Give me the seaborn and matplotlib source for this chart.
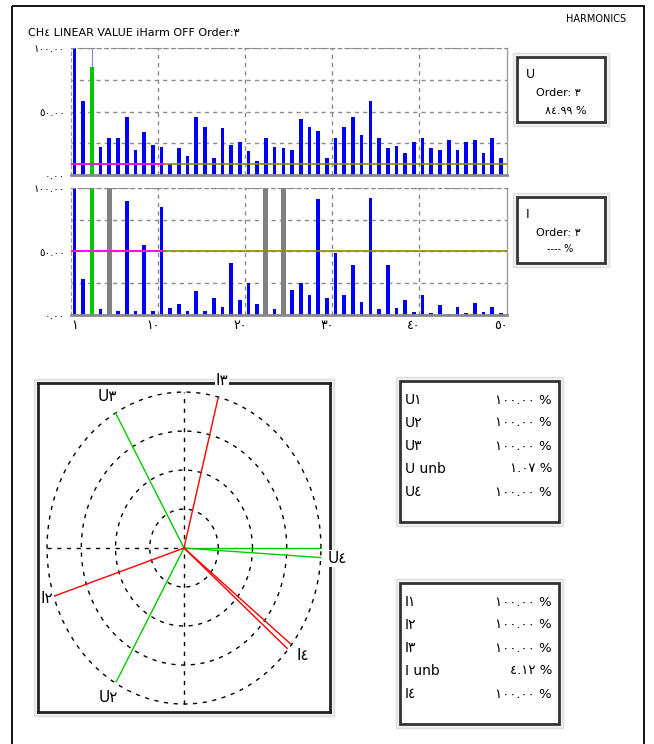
import numpy as np
import pandas as pd
import seaborn as sns
import matplotlib
matplotlib.use("Agg")
import matplotlib.pyplot as plt
from matplotlib.patches import Rectangle

# ---------------- data ----------------
harmonics = list(range(1, 51))
u_values = [100, 58, 84.99, 22, 29.5, 29.5, 46, 20, 34, 24,
            22, 9, 21, 15, 46, 37.5, 13, 37, 24, 26,
            19, 11, 29.5, 22, 21, 20, 44, 37.5, 34.5, 13,
            29.5, 37.5, 46, 31.5, 58, 29.5, 21, 23, 17, 26,
            29.5, 21, 20, 27.5, 20, 26, 27.5, 17, 29.5, 13]
i_values = [100, 28.5, 100, 4.5, np.nan, 3.5, 89.5, 3.5, 55, 3.5,
            85, 5.5, 8.5, 3.5, 19, 3.5, 13, 6.5, 41, 12,
            25, 8.5, np.nan, 4.5, np.nan, 20, 25, 16, 91, 13,
            49, 16, 39.5, 10.5, 92, 4.5, 39.5, 5.5, 12, 2.5,
            16, 1.5, 7.5, 0.5, 6.5, 1.5, 9.5, 2.5, 6.5, 1.5]
i_masked = [5, 23, 25]
selected_order = 3
u_threshold = 9
i_threshold = 50
x_ticks = [1, 10, 20, 30, 40, 50]
y_ticks = [0, 25, 50, 75, 100]
y_labeled = [0, 50, 100]

phasor_names = ["U1", "U2", "U3", "U4", "I1", "I2", "I3", "I4"]
phasor_angles = [0, 240, 120, -3.5, -40.5, 198, 75.5, -38.3]
phasor_mags = [1.0, 0.99, 1.0, 1.0, 0.99, 1.0, 0.99, 0.99]
phasor_show_label = [False, True, True, True, False, True, True, True]

u_table_labels = ["U1", "U2", "U3", "U unb", "U4"]
u_table_values = [100.00, 100.00, 100.00, 1.07, 100.00]
i_table_labels = ["I1", "I2", "I3", "I unb", "I4"]
i_table_values = [100.00, 100.00, 100.00, 4.12, 100.00]

AR = str.maketrans("0123456789", "٠١٢٣٤٥٦٧٨٩")
def ar(s):
    return str(s).translate(AR)

# ---------------- figure ----------------
W, H = 654, 744
fig = plt.figure(figsize=(W / 100, H / 100), dpi=100)
fig.patch.set_facecolor("white")
plt.rcParams["font.family"] = ["DejaVu Sans"]

def rect(l, t, w, h):
    return [l / W, 1 - (t + h) / H, w / W, h / H]

# overlay in pixel coordinates
ov = fig.add_axes([0, 0, 1, 1])
ov.set_xlim(0, W)
ov.set_ylim(H, 0)
ov.axis("off")

ov.add_patch(Rectangle((12, 6), 632, 760, fill=False, ec="black", lw=1.3))
ov.text(28, 33, ar("CH4 LINEAR VALUE iHarm OFF Order:3"), fontsize=8, va="center", ha="left")
t = ov.text(596, 19, "HARMONICS", fontsize=7, va="center", ha="center")
t.set_clip_path(Rectangle((540, 16), 100, 20, transform=ov.transData))

def framed_box(l, t_, w, h):
    ov.add_patch(Rectangle((l - 4, t_ - 4), w + 8, h + 8, fc="#f2f2f2", ec="#dddddd", lw=1))
    ov.add_patch(Rectangle((l, t_), w, h, fc="white", ec="#333333", lw=2))

# info boxes
framed_box(517, 57, 88, 65)
ov.text(526, 75, "U", fontsize=9, va="center")
ov.text(536, 93, ar("Order: %d" % selected_order), fontsize=8, va="center")
ov.text(545, 111, ar("%.2f %%" % u_values[selected_order - 1]), fontsize=8, va="center")

framed_box(517, 197, 88, 66)
ov.text(526, 215, "I", fontsize=9, va="center")
ov.text(536, 233, ar("Order: %d" % selected_order), fontsize=8, va="center")
ov.text(547, 249, "---- %", fontsize=7, va="center")

# tables
def table(top, labels, values):
    framed_box(400, top, 159, 141)
    for k, (lab, val) in enumerate(zip(labels, values)):
        y = top + 19 + k * 23
        ov.text(405, y, ar(lab), fontsize=10, va="center", ha="left")
        ov.text(552, y, ar("%.2f %%" % val), fontsize=9.5, va="center", ha="right")

table(381, u_table_labels, u_table_values)
table(583, i_table_labels, i_table_values)

# phasor outer shadow frame
ov.add_patch(Rectangle((34, 379), 300, 337, fc="#f2f2f2", ec="#dddddd", lw=1))

# ---------------- harmonic bar charts ----------------
BLUE, GREEN, GRAY = "#0000ff", "#00c800", "#808080"

def draw_harmonics(ax, values, masked, threshold, show_x):
    df = pd.DataFrame({"harmonic": harmonics, "value": values})
    df = df[df["value"].notna()].copy()
    df["kind"] = np.where(df["harmonic"] == selected_order, "sel", "bar")
    sns.barplot(data=df, x="harmonic", y="value", hue="kind",
                palette={"bar": BLUE, "sel": GREEN}, native_scale=True,
                width=0.42, dodge=False, legend=False, errorbar=None,
                saturation=1, linewidth=0, ax=ax, zorder=2)
    if masked:
        mdf = pd.DataFrame({"harmonic": masked, "value": [100] * len(masked)})
        spacing = np.min(np.diff(sorted(masked))) if len(masked) > 1 else 1
        sns.barplot(data=mdf, x="harmonic", y="value", color=GRAY,
                    native_scale=True, width=0.58 / spacing, errorbar=None,
                    saturation=1, linewidth=0, ax=ax, zorder=2)
    ax.axhline(threshold, color="#8c8c00", lw=1.2, zorder=3)
    ax.plot([0.6, 11.2], [threshold, threshold], color="#ff00ff", lw=1.2, zorder=4)
    ax.set_xlim(0.6, 50.7)
    ax.set_ylim(0, 100)
    ax.set_xticks(x_ticks)
    ax.set_xticklabels([ar(v) for v in x_ticks])
    ax.set_xticks([10.6, 20.6, 30.6, 40.6], minor=True)
    ax.set_yticks(y_ticks)
    ax.set_yticklabels([ar("%.2f" % v) if v in y_labeled else "" for v in y_ticks])
    ax.grid(axis="y", which="major", ls=(0, (3, 3)), color="#8a8a8a", lw=1)
    ax.grid(axis="x", which="minor", ls=(0, (3, 3)), color="#8a8a8a", lw=1)
    ax.grid(axis="x", which="major", visible=False)
    ax.set_axisbelow(True)
    ax.tick_params(which="both", length=0, labelsize=7.5, pad=4)
    ax.tick_params(axis="x", labelbottom=show_x, labelsize=9, pad=3)
    ax.set_xlabel("")
    ax.set_ylabel("")
    ax.spines["top"].set_linestyle((0, (3, 3)))
    ax.spines["top"].set_color("#8a8a8a")
    ax.spines["left"].set_linestyle((0, (3, 3)))
    ax.spines["left"].set_color("#a0a0a0")
    ax.spines["bottom"].set_color("#8a8a8a")
    ax.spines["bottom"].set_linewidth(2)
    ax.spines["right"].set_color("#a0a0a0")
    ax.spines["right"].set_linewidth(1)

ax_u = fig.add_axes(rect(71, 48, 436, 127))
draw_harmonics(ax_u, u_values, [], u_threshold, False)
ax_u.vlines(selected_order, u_values[selected_order - 1], 100, color="#8080ff", lw=0.8, zorder=3)

ax_i = fig.add_axes(rect(71, 188, 436, 127))
draw_harmonics(ax_i, i_values, i_masked, i_threshold, True)

# ---------------- phasor diagram ----------------
ax_p = fig.add_axes(rect(38, 383, 292, 329))
ax_p.set_xlim(-1.066, 1.066)
ax_p.set_ylim(-1.051, 1.058)
th = np.linspace(0, 2 * np.pi, 500)
for r in [0.25, 0.5, 0.75, 1.0]:
    ax_p.plot(r * np.cos(th), r * np.sin(th), color="black", lw=1, ls=(0, (3, 4)))
ax_p.plot([0, 0], [-1, 1], color="black", lw=1, ls=(0, (3, 4)))
ax_p.plot([-1, 0], [0, 0], color="black", lw=1, ls=(0, (3, 4)))
for name, ang, mag, show in zip(phasor_names, phasor_angles, phasor_mags, phasor_show_label):
    a = np.deg2rad(ang)
    col = "#00cc00" if name.startswith("U") else "#ff0000"
    ex, ey = mag * np.cos(a), mag * np.sin(a)
    ax_p.plot([0, ex], [0, ey], color=col, lw=1, zorder=3)
    if show:
        rf = 1.05 if name == "I2" else 1.12
        ax_p.text(rf * ex, rf * ey, ar(name), fontsize=11, ha="center", va="center",
                  clip_on=False, zorder=5,
                  bbox=dict(fc="white", ec="none", pad=0.5))
ax_p.set_xticks([])
ax_p.set_yticks([])
for s in ax_p.spines.values():
    s.set_color("#222222")
    s.set_linewidth(2)

fig.savefig("out.png", dpi=100, facecolor="white")
